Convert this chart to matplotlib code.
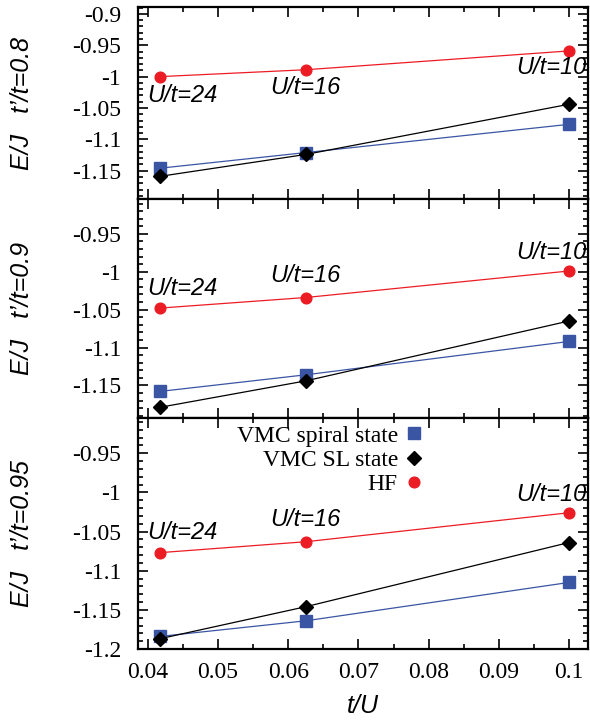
import matplotlib
matplotlib.use("Agg")
import matplotlib.pyplot as plt
from matplotlib.lines import Line2D
from matplotlib.ticker import MultipleLocator

# ---- data ----
x = [1/24, 1/16, 1/10]
u_labels = ["U/t=24", "U/t=16", "U/t=10"]
panel_titles = ["t\u2019/t=0.8", "t\u2019/t=0.9", "t\u2019/t=0.95"]

spiral_08 = [-1.146, -1.121, -1.076]
sl_08 = [-1.159, -1.124, -1.044]
hf_08 = [-1.000, -0.989, -0.959]

spiral_09 = [-1.158, -1.136, -1.092]
sl_09 = [-1.179, -1.144, -1.065]
hf_09 = [-1.048, -1.034, -0.999]

spiral_095 = [-1.184, -1.164, -1.115]
sl_095 = [-1.187, -1.146, -1.064]
hf_095 = [-1.077, -1.063, -1.026]

ylims = [(-1.195, -0.889), (-1.193, -0.904), (-1.2, -0.905)]
yticks = [[-0.9, -0.95, -1.0, -1.05, -1.1, -1.15],
          [-0.95, -1.0, -1.05, -1.1, -1.15],
          [-0.95, -1.0, -1.05, -1.1, -1.15, -1.2]]
ytick_labels = [["-0.9", "-0.95", "-1", "-1.05", "-1.1", "-1.15"],
                ["-0.95", "-1", "-1.05", "-1.1", "-1.15"],
                ["-0.95", "-1", "-1.05", "-1.1", "-1.15", "-1.2"]]
xticks = [0.04, 0.05, 0.06, 0.07, 0.08, 0.09, 0.1]
xtick_labels = ["0.04", "0.05", "0.06", "0.07", "0.08", "0.09", "0.1"]

BLUE = "#3a55a4"
RED = "#ec1c24"
BLACK = "#000000"

SERIF = "Liberation Serif"
SANS = "Liberation Sans"

fig = plt.figure(figsize=(5.9, 7.22), dpi=100)
L, R = 138/590, 588/590
bounds = [(7, 199), (199, 418), (418, 649)]
axes = []
for (t, b) in bounds:
    ax = fig.add_axes([L, 1 - b/722, R - L, (b - t)/722])
    axes.append(ax)

data = [(spiral_08, sl_08, hf_08), (spiral_09, sl_09, hf_09), (spiral_095, sl_095, hf_095)]

for i, ax in enumerate(axes):
    sp, sl, hf = data[i]
    ax.plot(x, hf, color=RED, lw=0.9, marker='o', ms=7.7, mec=RED, mfc=RED, zorder=3)
    ax.plot(x, sp, color=BLUE, lw=0.9, marker='s', ms=8.5, mec=BLUE, mfc=BLUE, zorder=3)
    ax.plot(x, sl, color=BLACK, lw=0.9, marker='D', ms=7, mec=BLACK, mfc=BLACK, zorder=4)
    ax.set_xlim(0.0386, 0.1027)
    ax.set_ylim(*ylims[i])
    ax.set_yticks(yticks[i])
    ax.set_yticklabels(ytick_labels[i], fontfamily=SERIF, fontsize=17)
    ax.yaxis.set_minor_locator(MultipleLocator(0.01))
    ax.set_xticks(xticks)
    ax.xaxis.set_minor_locator(MultipleLocator(0.005))
    if i == 2:
        ax.set_xticklabels(xtick_labels, fontfamily=SERIF, fontsize=17)
    else:
        ax.set_xticklabels([])
    ax.tick_params(which='both', direction='in', top=True, right=True, width=1.2)
    ax.tick_params(which='major', length=7)
    ax.tick_params(axis='y', which='major', pad=12)
    ax.tick_params(axis='x', which='major', pad=9.5)
    ax.tick_params(which='minor', length=3.5)
    for s in ax.spines.values():
        s.set_linewidth(1.6)
    ax.set_ylabel("E/J   " + panel_titles[i], fontfamily=SANS, fontstyle='italic', fontsize=18)
    ax.yaxis.set_label_coords(-0.232, 0.5)

    # annotations
    if i == 0:
        offs = [(-12, -19, 'left'), (0, -18, 'center'), (17, -17, 'right')]
    else:
        offs = [(-12, 20, 'left'), (0, 22, 'center'), (17, 18, 'right')]
    for j in range(3):
        dx, dy, ha = offs[j]
        ax.annotate(u_labels[j], xy=(x[j], hf[j]), xytext=(dx, dy), textcoords='offset pixels',
                    ha=ha, va='center', fontfamily=SANS, fontstyle='italic', fontsize=17)

axes[2].set_xlabel("t/U", fontfamily=SANS, fontstyle='italic', fontsize=18, labelpad=8)

handles = [Line2D([], [], ls='none', marker='s', ms=8.5, color=BLUE),
           Line2D([], [], ls='none', marker='D', ms=7, color=BLACK),
           Line2D([], [], ls='none', marker='o', ms=7.7, color=RED)]
labels = ["VMC spiral state", "VMC SL state", "HF"]
axes[2].legend(handles, labels, loc='upper right', bbox_to_anchor=(0.651, 1.0),
               markerfirst=False, frameon=False, prop={'family': SERIF, 'size': 17},
               handlelength=0.8, handletextpad=0.3, labelspacing=0.12, borderaxespad=0.1,
               borderpad=0.2)

fig.savefig("out.png", dpi=100)
